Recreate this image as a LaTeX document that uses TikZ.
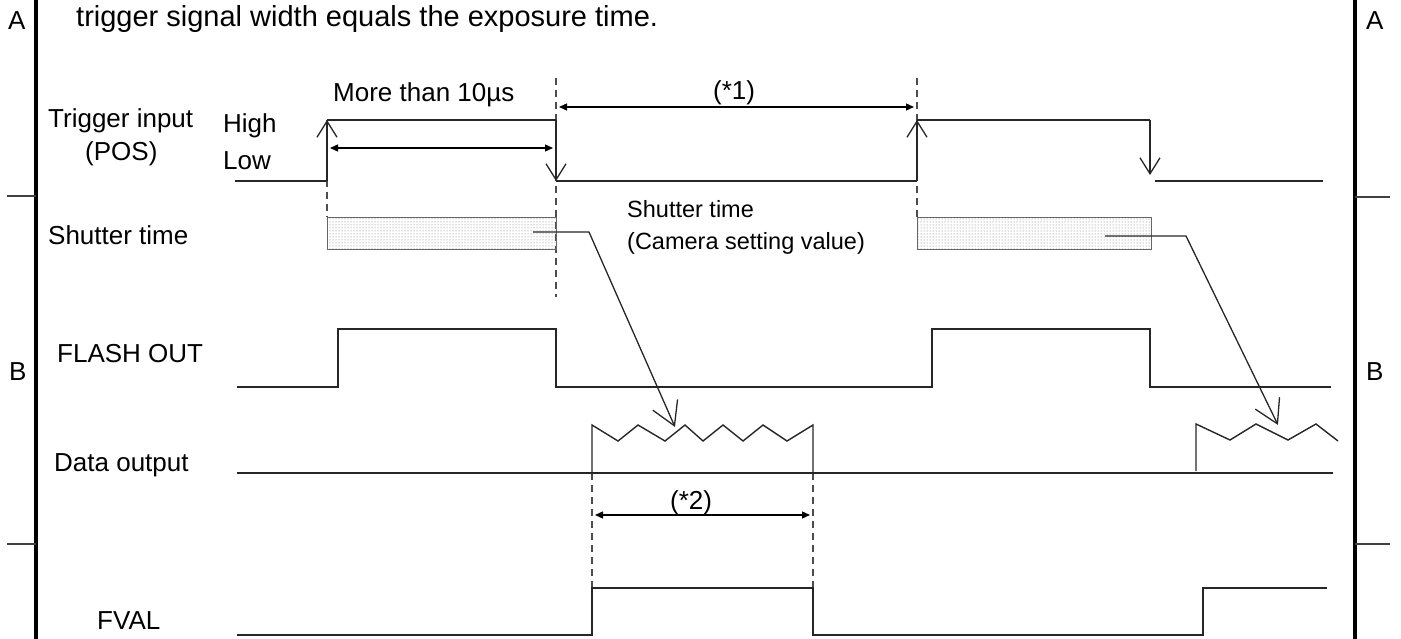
\documentclass[tikz,border=0pt]{standalone}
\usepackage{fontspec}
\setmainfont{Liberation Sans}
\usetikzlibrary{arrows.meta,patterns}
\begin{document}
\begin{tikzpicture}[x=1pt,y=-1pt,
  sig/.style={line width=1.4pt,black!85},
  frame/.style={line width=3.5pt,black},
  tick/.style={line width=1.2pt,black!75},
  dsh/.style={line width=1.1pt,black!70,dash pattern=on 7pt off 5pt},
  lbl/.style={font=\fontsize{26}{30}\selectfont,inner sep=0pt,anchor=base west},
  small/.style={font=\fontsize{23.5}{27}\selectfont,inner sep=0pt,anchor=base west},
  head/.style={font=\fontsize{29}{33}\selectfont,inner sep=0pt,anchor=base west},
  edgearr/.style={-{Straight Barb[length=16pt,width=20pt,line width=1.3pt]}},
  dimarr/.style={{Triangle[length=8pt,width=7pt]}-{Triangle[length=8pt,width=7pt]},line width=1.3pt,black},
  flowarr/.style={-{Straight Barb[length=23pt,width=27pt,line width=1.3pt]},line width=1.3pt,black!85},
  bar/.style={draw=black!60,line width=0.8pt,pattern=dots,pattern color=black!55}
]
\useasboundingbox (0,0) rectangle (1401,639);

% frame
\draw[frame] (36,0) -- (36,639);
\draw[frame] (1355,0) -- (1355,639);
\draw[tick] (7,196) -- (36,196);
\draw[tick] (7,544) -- (36,544);
\draw[tick] (1355,197) -- (1390,197);
\draw[tick] (1355,544) -- (1390,544);
\node[lbl] (aL) at (8,30) {A};
\node[lbl] (aR) at (1366,30) {A};
\node[lbl] (bL) at (9,380) {B};
\node[lbl] (bR) at (1366,380) {B};

% heading
\node[head] (title) at (76,27) {trigger signal width equals the exposure time.};

% labels
\node[lbl] (trg) at (48,128) {Trigger input};
\node[lbl] (pos) at (85,161) {(POS)};
\node[lbl] (hi) at (223,133) {High};
\node[lbl] (lo) at (223,170) {Low};
\node[lbl] (sht) at (48,245) {Shutter time};
\node[lbl] (fl) at (57,362) {FLASH OUT};
\node[lbl] (dat) at (54,471) {Data output};
\node[lbl] (fv) at (97,629) {FVAL};
\node[lbl] (mt) at (333,102) {More than 10µs};
\node[lbl] (n1) at (713,100) {(*1)};
\node[lbl] (n2) at (670,509) {(*2)};
\node[small] (st2) at (627,218) {Shutter time};
\node[small] (csv) at (627,250) {(Camera setting value)};

% dashed guides
\draw[dsh] (327,120) -- (327,217);
\draw[dsh] (556,78) -- (556,297);
\draw[dsh] (917,78) -- (917,217);
\draw[dsh] (592,473) -- (592,588);
\draw[dsh] (813,473) -- (813,588);

% trigger input
\draw[sig] (235,181) -- (327,181);
\draw[sig,edgearr] (327,181) -- (327,120);
\draw[sig] (327,120) -- (556,120);
\draw[sig,edgearr] (556,120) -- (556,181);
\draw[sig] (556,181) -- (917,181);
\draw[sig,edgearr] (917,181) -- (917,120);
\draw[sig] (917,120) -- (1150,120);
\draw[sig,edgearr] (1150,120) -- (1150,175);
\draw[sig] (1155,181) -- (1323,181);

% dimension arrows
\coordinate (m1a) at (330,148);
\coordinate (m1b) at (553,148);
\draw[dimarr] (m1a) -- (m1b);
\coordinate (s1a) at (559,107);
\coordinate (s1b) at (914,107);
\draw[dimarr] (s1a) -- (s1b);
\coordinate (s2a) at (595,515);
\coordinate (s2b) at (810,515);
\draw[dimarr] (s2a) -- (s2b);

% shutter bars
\draw[bar] (327,217) rectangle (556,249);
\draw[bar] (917,217) rectangle (1151,249);

% flash out
\draw[sig] (237,387) -- (338,387) -- (338,329) -- (556,329) -- (556,387)
  -- (932,387) -- (932,329) -- (1150,329) -- (1150,387) -- (1331,387);

% data output
\draw[sig] (237,473) -- (1333,473);
\draw[sig] (592,473) -- (592,425) -- (618,441) -- (638,425) -- (665,441) -- (685,425)
  -- (703,441) -- (723,425) -- (743,441) -- (763,425) -- (787,441) -- (813,425) -- (813,473);
\draw[sig] (1196,471) -- (1196,424) -- (1230,440) -- (1256,424) -- (1288,440) -- (1316,424) -- (1338,441);

% FVAL
\draw[sig] (237,635) -- (592,635) -- (592,588) -- (813,588) -- (813,635)
  -- (1203,635) -- (1203,588) -- (1327,588);

% flow arrows from shutter bars to data
\coordinate (f1a) at (533,232);
\coordinate (f1b) at (589,232);
\coordinate (f1c) at (675,427);
\draw[flowarr] (f1a) -- (f1b) -- (f1c);
\coordinate (f2a) at (1105,236);
\coordinate (f2b) at (1186,236);
\coordinate (f2c) at (1278,425);
\draw[flowarr] (f2a) -- (f2b) -- (f2c);
\end{tikzpicture}
\end{document}
